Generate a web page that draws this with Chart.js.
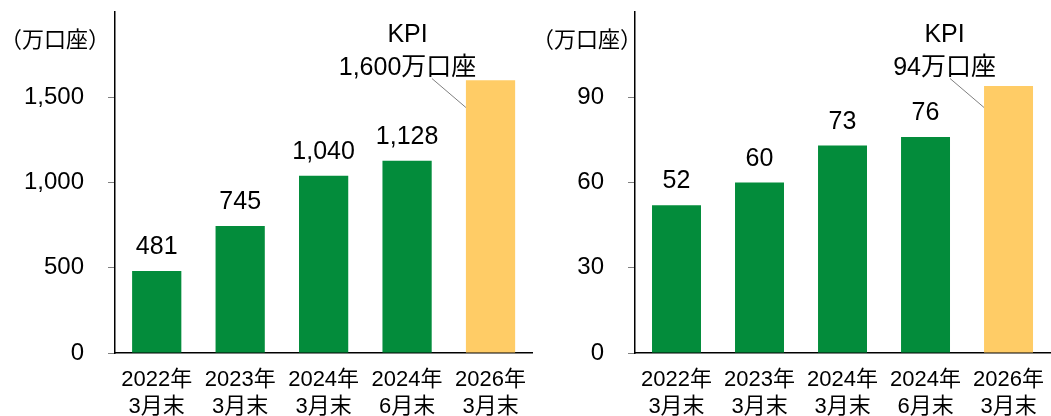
<!DOCTYPE html>
<html>
<head>
<meta charset="utf-8">
<script src="https://cdn.jsdelivr.net/npm/chart.js@4.4.0/dist/chart.umd.min.js"></script>
<style>
  html, body { margin: 0; padding: 0; background: #fff; overflow: hidden; }
  #wrap { position: relative; width: 1051px; height: 416px; overflow: hidden; }
  canvas { position: absolute; top: 0; }
  #c1 { left: 0; }
  #c2 { left: 541px; }
</style>
</head>
<body>
<div id="wrap">
  <canvas id="c1" width="540" height="416"></canvas>
  <canvas id="c2" width="517" height="416"></canvas>
</div>
<script>
const categories = [
  ["2022年", "3月末"],
  ["2023年", "3月末"],
  ["2024年", "3月末"],
  ["2024年", "6月末"],
  ["2026年", "3月末"]
];
const leftValues = [481, 745, 1040, 1128, 1600];
const rightValues = [52, 60, 73, 76, 94];
const leftTicks = [0, 500, 1000, 1500];
const rightTicks = [0, 30, 60, 90];
const leftMax = 2000;
const rightMax = 120;
const barColors = ["#038C3B", "#038C3B", "#038C3B", "#038C3B", "#FFCC66"];
const unitLabel = "（万口座）";
const kpiTitle = "KPI";

const FONT = '"Liberation Sans", "Noto Sans CJK JP", sans-serif';

// 数値ラベル・KPI注記・単位
const barLabels = {
  id: "barLabels",
  afterDatasetsDraw(chart, args, opts) {
    const ctx = chart.ctx;
    const meta = chart.getDatasetMeta(0);
    const vals = chart.data.datasets[0].data;
    const last = vals.length - 1;
    ctx.save();
    ctx.fillStyle = "#000";
    ctx.textAlign = "center";
    ctx.textBaseline = "alphabetic";
    ctx.font = "25px " + FONT;
    meta.data.forEach((bar, i) => {
      if (i === last) return;
      ctx.fillText(vals[i].toLocaleString("en-US"), bar.x, bar.y - 17);
    });

    const kb = meta.data[last];
    const kLeft = kb.x - kb.width / 2;
    ctx.fillText(kpiTitle, kb.x + opts.kpiDx, 42);
    ctx.fillText(vals[last].toLocaleString("en-US") + "万口座", kb.x + opts.kpiDx, 75);
    ctx.strokeStyle = "#7f7f7f";
    ctx.lineWidth = 1;
    ctx.beginPath();
    ctx.moveTo(kLeft - 34, 78.5);
    ctx.lineTo(kLeft, 107.5);
    ctx.stroke();

    ctx.font = "22px " + FONT;
    ctx.textBaseline = "middle";
    ctx.fillText(unitLabel, opts.unitX, 41);
    ctx.restore();
  }
};

function makeChart(id, values, ticks, max, yWidth, opts) {
  return new Chart(document.getElementById(id), {
    type: "bar",
    data: {
      labels: categories,
      datasets: [{
        data: values,
        backgroundColor: barColors,
        borderWidth: 0,
        barPercentage: 0.59,
        categoryPercentage: 1
      }]
    },
    options: {
      responsive: false,
      animation: false,
      layout: { padding: 0 },
      plugins: {
        legend: { display: false },
        tooltip: { enabled: false },
        barLabels: opts
      },
      scales: {
        x: {
          grid: { display: false, drawTicks: false },
          border: { display: true, color: "#000", width: 1.5 },
          ticks: {
            color: "#000",
            padding: 14,
            font: { family: FONT, size: 22, lineHeight: 1.2 }
          },
          afterFit: (s) => { s.height = 63; }
        },
        y: {
          min: 0,
          max: max,
          afterBuildTicks: (s) => { s.ticks = ticks.map(v => ({ value: v })); },
          grid: { drawOnChartArea: false, drawTicks: true, tickLength: 7, color: "#808080" },
          border: { display: true, color: "#000", width: 1.5 },
          ticks: {
            color: "#000",
            padding: 24,
            font: { family: FONT, size: 24, lineHeight: 1 },
            callback: (v) => v.toLocaleString("en-US")
          },
          afterFit: (s) => {
            s.width = yWidth;
            s.paddingTop = 12;
            s.paddingBottom = 0;
          }
        }
      }
    },
    plugins: [barLabels]
  });
}

makeChart("c1", leftValues, leftTicks, leftMax, 115, { kpiDx: -83, unitX: 55 });
makeChart("c2", rightValues, rightTicks, rightMax, 94, { kpiDx: -64, unitX: 46 });
</script>
</body>
</html>
